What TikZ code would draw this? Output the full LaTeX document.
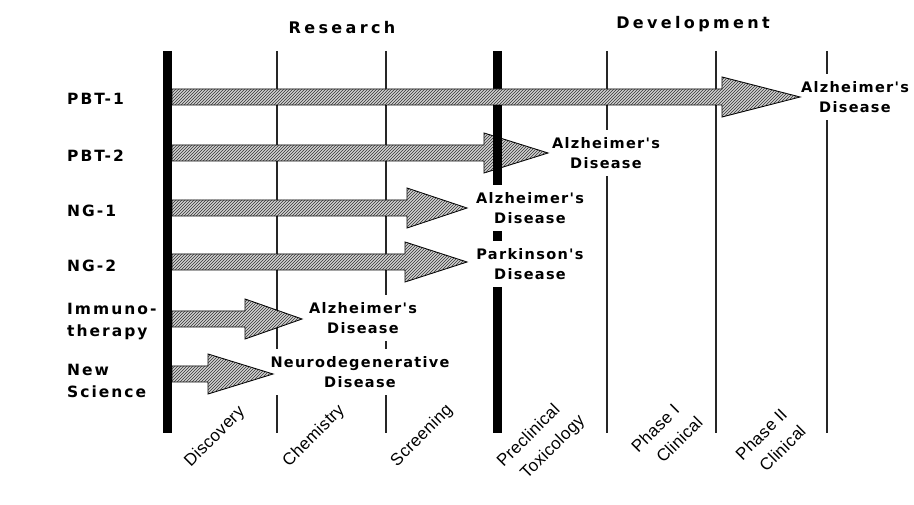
\documentclass[tikz,border=0pt]{standalone}
\usepackage{fontspec}
\setmainfont{Liberation Sans}
\newfontfamily\dvfont{DejaVu Sans}
\usetikzlibrary{patterns}
\newcommand\pipearrow[4]{% #1 name, #2 centre y, #3 head base x, #4 tip x
  \coordinate (#1s) at (172,#2);
  \coordinate (#1t) at (#4,#2);
  \draw[arr] (#1s) ++(0,8) -- (#3,#2+8) -- (#3,#2+20) -- (#1t) -- (#3,#2-20) -- (#3,#2-8) -- (172,#2-8) -- cycle;}
\begin{document}
\begin{tikzpicture}[x=1pt,y=1pt,
  thinline/.style={line width=1.4pt, black!85},
  thickbar/.style={line width=9pt, black},
  arr/.style={draw=black, line width=0.9pt, fill=gray!35,
    postaction={pattern=north east lines, pattern color=black!80}},
  rowlbl/.style={anchor=west, inner sep=0pt, align=left,
    font=\dvfont\bfseries\fontsize{15.5}{22}\selectfont\addfontfeature{LetterSpace=13}},
  reslbl/.style={fill=white, inner xsep=0pt, inner ysep=8pt, align=center,
    font=\dvfont\bfseries\fontsize{14.5}{19.5}\selectfont\addfontfeature{LetterSpace=9}},
  headlbl/.style={inner sep=0pt,
    font=\dvfont\bfseries\fontsize{16}{19}\selectfont\addfontfeature{LetterSpace=21}},
  collbl/.style={rotate=45, inner sep=0pt, align=center,
    font=\fontsize{17}{25}\selectfont\addfontfeature{LetterSpace=2}}
]
\useasboundingbox (0,0) rectangle (914,505);
% column boundaries
\coordinate (c0t) at (167,454); \coordinate (c0b) at (167,72);
\coordinate (c1t) at (277,454); \coordinate (c1b) at (277,72);
\coordinate (c2t) at (386,454); \coordinate (c2b) at (386,72);
\coordinate (c3t) at (497,454); \coordinate (c3b) at (497,72);
\coordinate (c4t) at (607,454); \coordinate (c4b) at (607,72);
\coordinate (c5t) at (716,454); \coordinate (c5b) at (716,72);
\coordinate (c6t) at (827,454); \coordinate (c6b) at (827,72);
\foreach \i in {1,2,4,5,6} \draw[thinline] (c\i t) -- (c\i b);
% PBT-2 arrow lies under the Research/Development bar
\pipearrow{pbtb}{352}{484}{548}
\draw[thickbar] (c0t) -- (c0b);
\draw[thickbar] (c3t) -- (c3b);
% headers
\node[headlbl] (research) at (342,477) {Research};
\node[headlbl] (development) at (693,481) {Development};
% row labels
\node[rowlbl] (r1) at (67,406.5) {PBT-1};
\node[rowlbl] (r2) at (67,349.5) {PBT-2};
\node[rowlbl] (r3) at (67,294) {NG-1};
\node[rowlbl] (r4) at (67,239) {NG-2};
\node[rowlbl] (r5) at (67,183) {Immuno-\\therapy};
\node[rowlbl] (r6) at (67,124.5) {New\\Science};
% result labels
\node[reslbl] (o1) at (855,408) {Alzheimer's\\Disease};
\node[reslbl] (o2) at (606,352) {Alzheimer's\\Disease};
\node[reslbl] (o3) at (530,297) {Alzheimer's\\Disease};
\node[reslbl] (o4) at (530,241) {Parkinson's\\Disease};
\node[reslbl] (o5) at (363,187) {Alzheimer's\\Disease};
\node[reslbl] (o6) at (360,133) {Neurodegenerative\\Disease};
% remaining arrows
\pipearrow{pbta}{408}{722}{800}
\pipearrow{nga}{297}{407}{467}
\pipearrow{ngb}{243}{405}{467}
\pipearrow{imm}{186}{245}{302}
\pipearrow{nsc}{131}{208}{273}
% stage labels
\node[collbl] (s1) at (215,68) {Discovery};
\node[collbl] (s2) at (314,69) {Chemistry};
\node[collbl] (s3) at (422,69) {Screening};
\node[collbl] (s4) at (538,60) {Preclinical\\\hspace*{18pt}Toxicology};
\node[collbl] (s5) at (664,68) {Phase I\\\hspace*{18pt}Clinical};
\node[collbl] (s6) at (770,62) {Phase II\\\hspace*{10pt}Clinical};
\end{tikzpicture}
\end{document}
